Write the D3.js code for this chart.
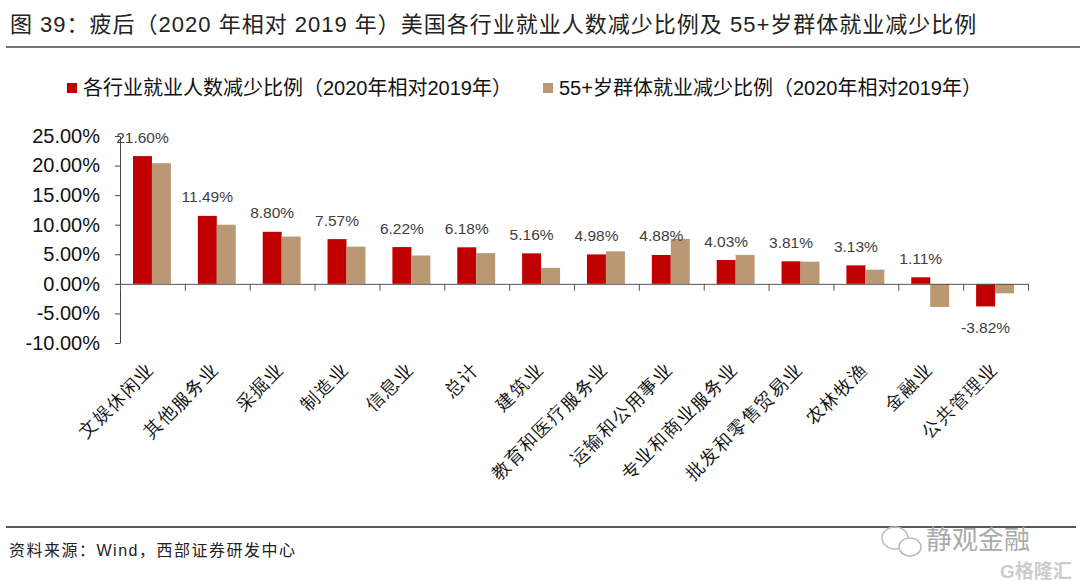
<!DOCTYPE html>
<html>
<head>
<meta charset="utf-8">
<script src="https://cdn.jsdelivr.net/npm/d3@7"></script>
<style>
  body { margin: 0; background: #fff; }
  svg { display: block; font-family: "Liberation Sans", "Noto Sans CJK SC", sans-serif; }
</style>
</head>
<body>
<div class="contain"></div>
<script>
const categories = ["文娱休闲业", "其他服务业", "采掘业", "制造业", "信息业", "总计", "建筑业",
  "教育和医疗服务业", "运输和公用事业", "专业和商业服务业", "批发和零售贸易业", "农林牧渔", "金融业", "公共管理业"];
const allWorkers = [21.60, 11.49, 8.80, 7.57, 6.22, 6.18, 5.16, 4.98, 4.88, 4.03, 3.81, 3.13, 1.11, -3.82];
const age55Plus = [20.4, 10.0, 8.0, 6.3, 4.8, 5.2, 2.7, 5.5, 7.6, 4.9, 3.75, 2.4, -3.9, -1.6];
const yTicks = [-10, -5, 0, 5, 10, 15, 20, 25];
const seriesNames = ["各行业就业人数减少比例（2020年相对2019年）", "55+岁群体就业减少比例（2020年相对2019年）"];

const svg_width = 1080;
const svg_height = 585;
const colors = ["#C00000", "#B99873"];

let svg = d3.select(".contain").append("svg")
            .attr("width", svg_width).attr("height", svg_height);

// title + rules
svg.append("text").attr("x", 10).attr("y", 24)
   .attr("dominant-baseline", "central")
   .style("font-size", "22px").style("letter-spacing", "1px").attr("fill", "#222")
   .text("图 39：疲后（2020 年相对 2019 年）美国各行业就业人数减少比例及 55+岁群体就业减少比例");
svg.append("line").attr("x1", 6).attr("x2", 1080).attr("y1", 47).attr("y2", 47)
   .attr("stroke", "#444").attr("stroke-width", 1.5);
svg.append("line").attr("x1", 6).attr("x2", 1076).attr("y1", 527).attr("y2", 527)
   .attr("stroke", "#222").attr("stroke-width", 1.5);

// legend
let legendX = [67, 543];
seriesNames.forEach((name, i) => {
  svg.append("rect").attr("x", legendX[i]).attr("y", 83).attr("width", 10).attr("height", 10)
     .attr("fill", colors[i]);
  svg.append("text").attr("x", legendX[i] + 16).attr("y", 88)
     .attr("dominant-baseline", "central")
     .style("font-size", "20px").attr("fill", "#111").text(name);
});

// scales
let xScale = d3.scaleBand().domain(categories).range([120, 1028]);
let bw = xScale.bandwidth();
let inner = d3.scaleBand().domain([0, 1]).range([bw * 0.2, bw * 0.785]);
let yScale = d3.scaleLinear().domain([-10, 25]).range([343, 136]);

// bars
let series = [allWorkers, age55Plus];
series.forEach((vals, s) => {
  svg.append("g").selectAll("rect")
    .data(vals).enter().append("rect")
    .attr("x", (d, i) => xScale(categories[i]) + inner(s))
    .attr("width", inner.bandwidth())
    .attr("y", (d) => yScale(Math.max(d, 0)))
    .attr("height", (d) => Math.abs(yScale(d) - yScale(0)))
    .attr("fill", colors[s]);
});

// data labels for first series
svg.append("g").selectAll("text")
  .data(allWorkers).enter().append("text")
  .attr("x", (d, i) => xScale(categories[i]) + inner(0) + inner.bandwidth() / 2)
  .attr("y", (d) => d >= 0 ? yScale(d) - 19 : yScale(d) + 21)
  .attr("text-anchor", "middle").attr("dominant-baseline", "central")
  .style("font-size", "15.5px").attr("fill", "#404040")
  .text((d) => d.toFixed(2) + "%");

// y axis
let yAxis = d3.axisLeft(yScale).tickValues(yTicks).tickSize(5).tickSizeOuter(0)
              .tickPadding(15).tickFormat((d) => d.toFixed(2) + "%");
let yg = svg.append("g").attr("transform", "translate(120, 0)").call(yAxis);
yg.selectAll("text").style("font-size", "20px").attr("fill", "#111");
yg.selectAll("line,path").attr("stroke", "#444");

// x axis at zero, ticks between categories
let idx = d3.scaleLinear().domain([0, categories.length]).range([120, 1028]);
let xg = svg.append("g").attr("transform", `translate(0, ${yScale(0)})`)
  .call(d3.axisBottom(idx).tickValues(d3.range(categories.length + 1)).tickSize(7)
          .tickSizeOuter(0).tickFormat(""));
xg.selectAll("line,path").attr("stroke", "#555");

// category labels
let lg = svg.append("g").attr("transform", "translate(0, 366)")
  .call(d3.axisBottom(xScale).tickSize(0).tickPadding(0));
lg.select(".domain").remove();
lg.selectAll("text")
  .attr("transform", "translate(-1.5, 0) rotate(-45)")
  .attr("y", 0).attr("dy", null)
  .attr("text-anchor", "end").attr("dominant-baseline", "central")
  .style("font-size", "18px").style("letter-spacing", "1.5px").attr("fill", "#111");

// footer
svg.append("text").attr("x", 9).attr("y", 550).attr("dominant-baseline", "central")
   .style("font-size", "16px").style("letter-spacing", "1.5px").attr("fill", "#222")
   .text("资料来源：Wind，西部证券研发中心");

// watermarks
let wm = svg.append("g").attr("fill", "none").attr("stroke", "#bbb").attr("stroke-width", 1.5);
wm.append("ellipse").attr("cx", 895).attr("cy", 538).attr("rx", 13).attr("ry", 11);
wm.append("ellipse").attr("cx", 910).attr("cy", 547).attr("rx", 11).attr("ry", 9).attr("fill", "#fff");
svg.append("text").attr("x", 926).attr("y", 540).attr("dominant-baseline", "central")
   .style("font-size", "26px").attr("fill", "#aaa").text("静观金融");
svg.append("text").attr("x", 1000).attr("y", 571).attr("dominant-baseline", "central")
   .style("font-size", "19px").style("font-weight", "bold").attr("fill", "#ccc").text("G格隆汇");
</script>
</body>
</html>
